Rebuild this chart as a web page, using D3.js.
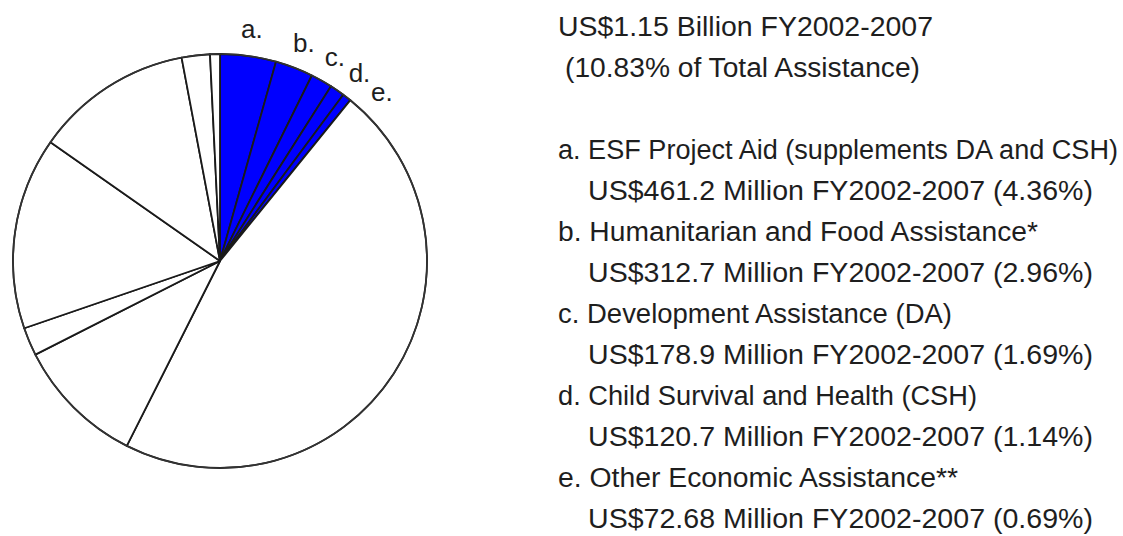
<!DOCTYPE html>
<html>
<head>
<meta charset="utf-8">
<script src="https://cdn.jsdelivr.net/npm/d3@7"></script>
<style>
  html, body { margin: 0; padding: 0; background: #fff; }
  svg { display: block; }
  text { font-family: "Liberation Sans", Arial, sans-serif; fill: #1e1e1e; }
</style>
</head>
<body>
<svg id="chart" width="1123" height="536"></svg>
<script>
// ---- data ----
const headerLines = ["US$1.15 Billion FY2002-2007", "(10.83% of Total Assistance)"];
const blueLetters = ["a.", "b.", "c.", "d.", "e."];
const blueNames = [
  "ESF Project Aid (supplements DA and CSH)",
  "Humanitarian and Food Assistance*",
  "Development Assistance (DA)",
  "Child Survival and Health (CSH)",
  "Other Economic Assistance**"
];
const blueAmounts = ["461.2", "312.7", "178.9", "120.7", "72.68"]; // US$ Million FY2002-2007
const bluePercents = [4.36, 2.96, 1.69, 1.14, 0.69];
// remaining (unlabelled) slices of total assistance, clockwise after "e."
const otherPercents = [46.6, 10.1, 2.2, 15.0, 12.3, 2.2, 0.77];

// ---- layout ----
const cx = 220, cy = 261, R = 207;
const labelR = 234, labelMinSep = 7.2; // degrees
const legendX = 558, legendIndentX = 588, legendY0 = 159, legendStep = 41.05;
const headerX = [558, 565], headerY = [36, 77];
const fontSize = 27;
// measured widths of text lines in the reference (for font metric matching)
const headerWidths = [375, 355];
const nameWidths = [560, 480, 394, 419, 400];
const amountWidth = 505;

const svg = d3.select("#chart");

const slices = bluePercents.map((v, i) => ({ value: v, blue: true, letter: blueLetters[i] }))
  .concat(otherPercents.map(v => ({ value: v, blue: false })));

const pie = d3.pie().sort(null).value(d => d.value).startAngle(0).endAngle(2 * Math.PI);
const arcs = pie(slices);
const arc = d3.arc().innerRadius(0).outerRadius(R);

const g = svg.append("g").attr("transform", `translate(${cx},${cy})`);
g.selectAll("path.slice").data(arcs).enter().append("path")
  .attr("class", "slice")
  .attr("d", arc)
  .attr("fill", d => d.data.blue ? "#0000ff" : "#ffffff")
  .attr("stroke", "#1a1a1a")
  .attr("stroke-width", 1.8)
  .attr("stroke-linejoin", "round");

g.append("circle").attr("r", R).attr("fill", "none")
  .attr("stroke", "#333").attr("stroke-width", 1.6);

// slice letter labels, spread so they do not overlap
const blueArcs = arcs.filter(d => d.data.blue);
let prev = -Infinity;
const labelAngles = blueArcs.map(d => {
  let a = (d.startAngle + d.endAngle) / 2 * 180 / Math.PI;
  a = Math.max(a, prev + labelMinSep);
  prev = a;
  return a;
});
g.selectAll("text.lbl").data(blueArcs).enter().append("text")
  .attr("class", "lbl")
  .attr("x", (d, i) => labelR * Math.sin(labelAngles[i] * Math.PI / 180))
  .attr("y", (d, i) => -labelR * Math.cos(labelAngles[i] * Math.PI / 180))
  .attr("dy", "0.35em")
  .attr("text-anchor", "middle")
  .attr("font-size", 26)
  .text(d => d.data.letter);

// header
svg.selectAll("text.hdr").data(headerLines).enter().append("text")
  .attr("class", "hdr")
  .attr("x", (d, i) => headerX[i])
  .attr("y", (d, i) => headerY[i])
  .attr("font-size", fontSize)
  .attr("textLength", (d, i) => headerWidths[i])
  .attr("lengthAdjust", "spacingAndGlyphs")
  .text(d => d);

// legend
const legend = svg.append("g");
blueLetters.forEach((L, i) => {
  legend.append("text")
    .attr("x", legendX)
    .attr("y", legendY0 + legendStep * (2 * i))
    .attr("font-size", fontSize)
    .attr("textLength", nameWidths[i])
    .attr("lengthAdjust", "spacingAndGlyphs")
    .text(`${L} ${blueNames[i]}`);
  legend.append("text")
    .attr("x", legendIndentX)
    .attr("y", legendY0 + legendStep * (2 * i + 1))
    .attr("font-size", fontSize)
    .attr("textLength", amountWidth)
    .attr("lengthAdjust", "spacingAndGlyphs")
    .text(`US$${blueAmounts[i]} Million FY2002-2007 (${bluePercents[i].toFixed(2)}%)`);
});
</script>
</body>
</html>
